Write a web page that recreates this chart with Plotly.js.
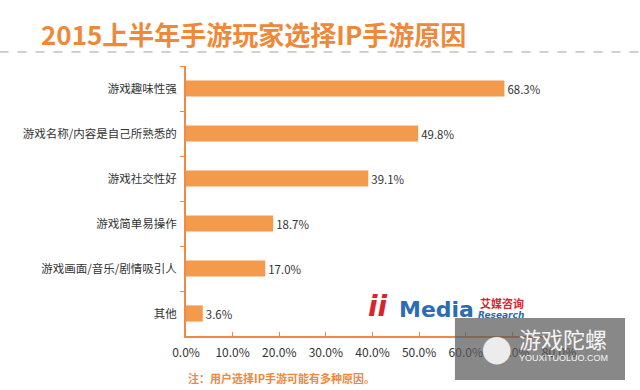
<!DOCTYPE html>
<html><head><meta charset="utf-8">
<script src="https://cdn.plot.ly/plotly-3.0.1.min.js"></script>
<style>html,body{margin:0;padding:0;background:#fff}#chart{width:640px;height:390px}</style>
</head><body><div id="chart"></div>
<script>
var categories = ["游戏趣味性强","游戏名称/内容是自己所熟悉的","游戏社交性好","游戏简单易操作","游戏画面/音乐/剧情吸引人","其他"];
var values = [68.3, 49.8, 39.1, 18.7, 17.0, 3.6];
var xTickVals = [0,10,20,30,40,50,60,70,80];
var xTickText = ["0.0%","10.0%","20.0%","30.0%","40.0%","50.0%","60.0%","70.0%","80.0%"];
var titleText = "2015上半年手游玩家选择IP手游原因";
var noteText = "注：用户选择IP手游可能有多种原因。";

var orange = "#F39A4C";
var axisOrange = "#EE8A45";
var font = "Noto Sans CJK SC, Noto Sans, sans-serif";

var trace = {
  type: "bar", orientation: "h",
  x: values, y: categories,
  marker: {color: orange},
  width: 0.36,
  text: values.map(function(v){return v.toFixed(1)+"%";}),
  textposition: "outside",
  textfont: {family: font, size: 12, color: "#333"},
  cliponaxis: false,
  hoverinfo: "none"
};

var layout = {
  width: 640, height: 390,
  margin: {l: 186, r: 81, t: 66, b: 54},
  paper_bgcolor: "#fff", plot_bgcolor: "#fff",
  showlegend: false,
  font: {family: font, color: "#333"},
  xaxis: {
    range: [0, 80], tickvals: xTickVals, ticktext: xTickText,
    showgrid: false, zeroline: false,
    showline: true, linecolor: axisOrange, linewidth: 2,
    ticks: "inside", ticklen: 4, tickcolor: axisOrange,
    ticklabelstandoff: 5,
    tickfont: {family: font, size: 12, color: "#333"}
  },
  yaxis: {
    autorange: "reversed",
    showgrid: false, zeroline: false,
    showline: true, linecolor: axisOrange, linewidth: 2,
    ticks: "outside", ticklen: 4, tickcolor: axisOrange, tickson: "boundaries",
    ticklabelstandoff: 5,
    tickfont: {family: font, size: 11.5, color: "#333"}
  },
  shapes: [
    {type: "line", xref: "paper", yref: "paper", x0: -0.5, x1: 1.22, y0: 1.052, y1: 1.052,
     line: {color: "#9aa3ad", width: 1, dash: "dash"}},
    {type: "rect", xref: "paper", yref: "paper", x0: 0.721, x1: 1.177, y0: -0.163, y1: 0.067,
     fillcolor: "rgba(90,90,90,0.72)", line: {width: 0}, layer: "above"}
  ],
  annotations: [
    {text: "<b>" + titleText + "</b>", xref: "paper", yref: "paper", x: (253-186)/373, y: (336-33)/270,
     xanchor: "center", yanchor: "middle", showarrow: false,
     font: {family: font, size: 26, color: "#F0883A"}},
    {text: "<b>" + noteText + "</b>", xref: "paper", yref: "paper", x: 0, y: (336-378)/270,
     xanchor: "left", yanchor: "middle", showarrow: false,
     font: {family: font, size: 11, color: "#F0883A"}},
    {text: "<b><i>ii</i></b>", xref: "paper", yref: "paper", x: (378-186)/373, y: (336-306)/270,
     xanchor: "center", yanchor: "middle", showarrow: false,
     font: {family: "DejaVu Sans", size: 28, color: "#D9242B"}},
    {text: "<b>Media</b>", xref: "paper", yref: "paper", x: (436-186)/373, y: (336-309)/270,
     xanchor: "center", yanchor: "middle", showarrow: false,
     font: {family: "DejaVu Sans", size: 22, color: "#2B6CB3"}},
    {text: "<b>艾媒咨询</b>", xref: "paper", yref: "paper", x: (502-186)/373, y: (336-303)/270,
     xanchor: "center", yanchor: "middle", showarrow: false,
     font: {family: font, size: 11, color: "#D9242B"}},
    {text: "<b><i>Research</i></b>", xref: "paper", yref: "paper", x: (501-186)/373, y: (336-315)/270,
     xanchor: "center", yanchor: "middle", showarrow: false,
     font: {family: "DejaVu Sans", size: 9, color: "#2B6CB3"}},
    {text: "游戏陀螺", xref: "paper", yref: "paper", x: (563-186)/373, y: (336-338)/270,
     xanchor: "center", yanchor: "middle", showarrow: false,
     font: {family: font, size: 22, color: "#f4f4f4"}},
    {text: "YOUXITUOLUO.COM", xref: "paper", yref: "paper", x: (563-186)/373, y: (336-358)/270,
     xanchor: "center", yanchor: "middle", showarrow: false,
     font: {family: "Liberation Sans", size: 9, color: "#f4f4f4"}},
    {text: "●", xref: "paper", yref: "paper", x: (496-186)/373, y: (336-347)/270,
     xanchor: "center", yanchor: "middle", showarrow: false,
     font: {family: "DejaVu Sans", size: 36, color: "#ececec"}}
  ]
};

Plotly.newPlot("chart", [trace], layout, {displayModeBar: false, staticPlot: true});
</script></body></html>
